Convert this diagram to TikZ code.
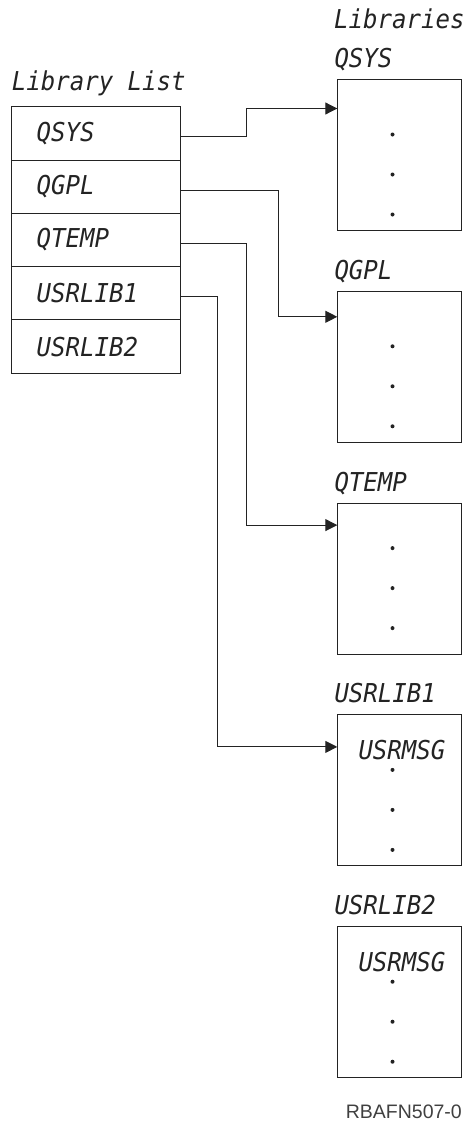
\documentclass[tikz,border=0pt]{standalone}
\usepackage{fontspec}
\newfontfamily\ibmfont{DejaVu Sans Mono}[FakeStretch=0.925]
\newfontfamily\figidfont{Liberation Sans}
\usetikzlibrary{arrows.meta,positioning}
\definecolor{inkGray}{RGB}{35,35,35}

\begin{document}
\begin{tikzpicture}[
    x=1pt, y=-1pt,
    mono/.style={font=\ibmfont\itshape\fontsize{26}{30}\selectfont, text=inkGray, inner sep=0pt},
    cell/.style={mono, draw=inkGray, line width=1pt, outer sep=0pt,
      minimum height=53.3pt, text width=119pt, inner xsep=25pt, inner ysep=0pt, align=left},
    libbox/.style={draw=inkGray, line width=1pt, outer sep=0pt,
      minimum width=123.7pt, minimum height=151pt, inner sep=0pt},
    link/.style={draw=inkGray, line width=1pt, -{Triangle[length=12pt,width=12pt]}}
  ]
  \useasboundingbox (0,0) rectangle (466,1122);

  % library list
  \node[mono, anchor=base west] (listT) at (11.7,90.7) {Library List};
  \node[cell, anchor=north west] (r1) at (11.7,106.7) {QSYS};
  \node[cell, below=0pt of r1] (r2) {QGPL};
  \node[cell, below=0pt of r2] (r3) {QTEMP};
  \node[cell, below=0pt of r3] (r4) {USRLIB1};
  \node[cell, below=0pt of r4] (r5) {USRLIB2};

  % libraries
  \node[mono, anchor=base west] (librariesT) at (334,28) {Libraries};
  \node[libbox, anchor=north west] (qsys) at (337.3,79.5) {};
  \node[libbox, below=60.8pt of qsys] (qgpl) {};
  \node[libbox, below=60.8pt of qgpl] (qtemp) {};
  \node[libbox, below=60.8pt of qtemp] (usr1) {};
  \node[libbox, below=60.8pt of usr1] (usr2) {};

  \foreach \b/\t in {qsys/QSYS, qgpl/QGPL, qtemp/QTEMP, usr1/USRLIB1, usr2/USRLIB2}
    \node[mono, anchor=base west] (\b-title) at ([xshift=-3pt, yshift=12pt]\b.north west) {\t};

  \node[mono, anchor=west] (usr1-msg) at ([xshift=21pt, yshift=-35pt]usr1.north west) {USRMSG};
  \node[mono, anchor=west] (usr2-msg) at ([xshift=21pt, yshift=-35pt]usr2.north west) {USRMSG};

  % dots
  \foreach \b/\o in {qsys/55, qgpl/55, qtemp/45, usr1/55, usr2/55}
    \foreach \k in {0,1,2}
      \fill[inkGray] ([xshift=55.2pt, yshift={-(\o+40*\k)*1pt}]\b.north west) circle (2pt);

  % search order
  \draw[link] ([yshift=-3.5pt]r1.east) -- ++(66,0) |- ([yshift=-29pt]qsys.north west);
  \draw[link] ([yshift=-3.5pt]r2.east) -- ++(97.6,0) |- ([yshift=-25.5pt]qgpl.north west);
  \draw[link] ([yshift=-3.5pt]r3.east) -- ++(66,0) |- ([yshift=-22pt]qtemp.north west);
  \draw[link] ([yshift=-3.5pt]r4.east) -- ++(36.6,0) |- ([yshift=-32pt]usr1.north west);

  \node[font=\figidfont\fontsize{19.5}{22}\selectfont, text=black!75, anchor=base east, inner sep=0pt]
    (figid) at (462,1118) {RBAFN507-0};
\end{tikzpicture}
\end{document}
